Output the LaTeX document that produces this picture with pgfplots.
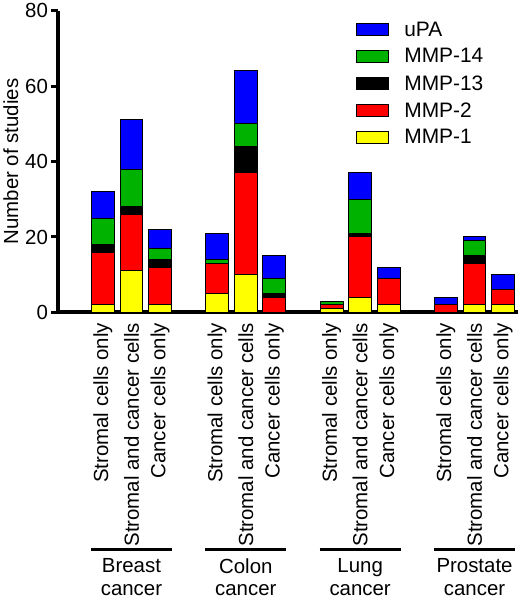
\documentclass[border=0pt]{standalone}
\usepackage{fontspec}
\setmainfont{Liberation Sans}
\usepackage{pgfplots}
\usepackage{pgfplotstable}
\pgfplotsset{compat=1.18}

\definecolor{cUPA}{RGB}{0,0,255}
\definecolor{cMMPfourteen}{RGB}{0,178,0}
\definecolor{cMMPthirteen}{RGB}{0,0,0}
\definecolor{cMMPtwo}{RGB}{255,0,0}
\definecolor{cMMPone}{RGB}{255,255,0}

% columns: bar position, MMP-1, MMP-2, MMP-13, MMP-14, uPA
\pgfplotstableread{
pos mmpone mmptwo mmpthirteen mmpfourteen upa
0   2  14 2 7  7
1   11 15 2 10 13
2   2  10 2 3  5
4   5  8  0 1  7
5   10 27 7 6  14
6   0  4  1 4  6
8   1  1  0 1  0
9   4  16 1 9  7
10  2  7  0 0  3
12  0  2  0 0  2
13  2  11 2 4  1
14  2  4  0 0  4
}\studies

\newcommand{\bigfont}{\fontsize{20.5}{22.5}\selectfont}

\begin{document}
\begin{tikzpicture}
\begin{axis}[
	scale only axis,
	width=460bp, height=302bp,
	ybar stacked,
	bar width=0.8,
	xmin=-1.556, xmax=14.53,
	ymin=0, ymax=80,
	axis lines=left,
	axis line style={line width=4bp, -},
	ytick={0,20,40,60,80},
	xtick={0,1,2,4,5,6,8,9,10,12,13,14},
	xticklabels={Stromal cells only, Stromal and cancer cells, Cancer cells only,
		Stromal cells only, Stromal and cancer cells, Cancer cells only,
		Stromal cells only, Stromal and cancer cells, Cancer cells only,
		Stromal cells only, Stromal and cancer cells, Cancer cells only},
	x tick label style={rotate=90, anchor=east, font=\bigfont},
	y tick label style={font=\bigfont},
	xtick style={draw=none},
	ytick style={line width=3bp, black},
	major tick length=7bp,
	tick align=outside,
	/pgf/number format/assume math mode=true,
	ylabel={Number of studies},
	ylabel style={font=\bigfont},
	legend style={draw=none, fill=none, at={(0.641,0.977)}, anchor=north west,
		font=\fontsize{21}{24}\selectfont, row sep=7bp},
	legend cell align=left,
	reverse legend,
	clip=false,
	boxlegend/.style={legend image code/.code={\draw[##1, line width=1bp] (0bp,-6bp) rectangle (32bp,6bp); \path (45bp,0bp);}},
]
\addplot[fill=cMMPone, draw=black, line width=1bp, boxlegend] table[x=pos, y=mmpone] {\studies};
\addlegendentry{MMP-1}
\addplot[fill=cMMPtwo, draw=black, line width=1bp, boxlegend] table[x=pos, y=mmptwo] {\studies};
\addlegendentry{MMP-2}
\addplot[fill=cMMPthirteen, draw=black, line width=1bp, boxlegend] table[x=pos, y=mmpthirteen] {\studies};
\addlegendentry{MMP-13}
\addplot[fill=cMMPfourteen, draw=black, line width=1bp, boxlegend] table[x=pos, y=mmpfourteen] {\studies};
\addlegendentry{MMP-14}
\addplot[fill=cUPA, draw=black, line width=1bp, boxlegend] table[x=pos, y=upa] {\studies};
\addlegendentry{uPA}

% group brackets and names under the tick labels
\draw[line width=3bp] ([yshift=-237bp]axis cs:-0.42,0) -- ([yshift=-237bp]axis cs:2.42,0);
\draw[line width=3bp] ([yshift=-237bp]axis cs:3.58,0) -- ([yshift=-237bp]axis cs:6.42,0);
\draw[line width=3bp] ([yshift=-237bp]axis cs:7.58,0) -- ([yshift=-237bp]axis cs:10.42,0);
\draw[line width=3bp] ([yshift=-237bp]axis cs:11.58,0) -- ([yshift=-237bp]axis cs:14.42,0);
\node[anchor=north, align=center, font=\bigfont, inner sep=0pt] at ([yshift=-246bp]axis cs:1,0) {Breast\\cancer};
\node[anchor=north, align=center, font=\bigfont, inner sep=0pt] at ([yshift=-246bp]axis cs:5,0) {Colon\\cancer};
\node[anchor=north, align=center, font=\bigfont, inner sep=0pt] at ([yshift=-246bp]axis cs:9,0) {Lung\\cancer};
\node[anchor=north, align=center, font=\bigfont, inner sep=0pt] at ([yshift=-246bp]axis cs:13,0) {Prostate\\cancer};
\end{axis}
\end{tikzpicture}
\end{document}
